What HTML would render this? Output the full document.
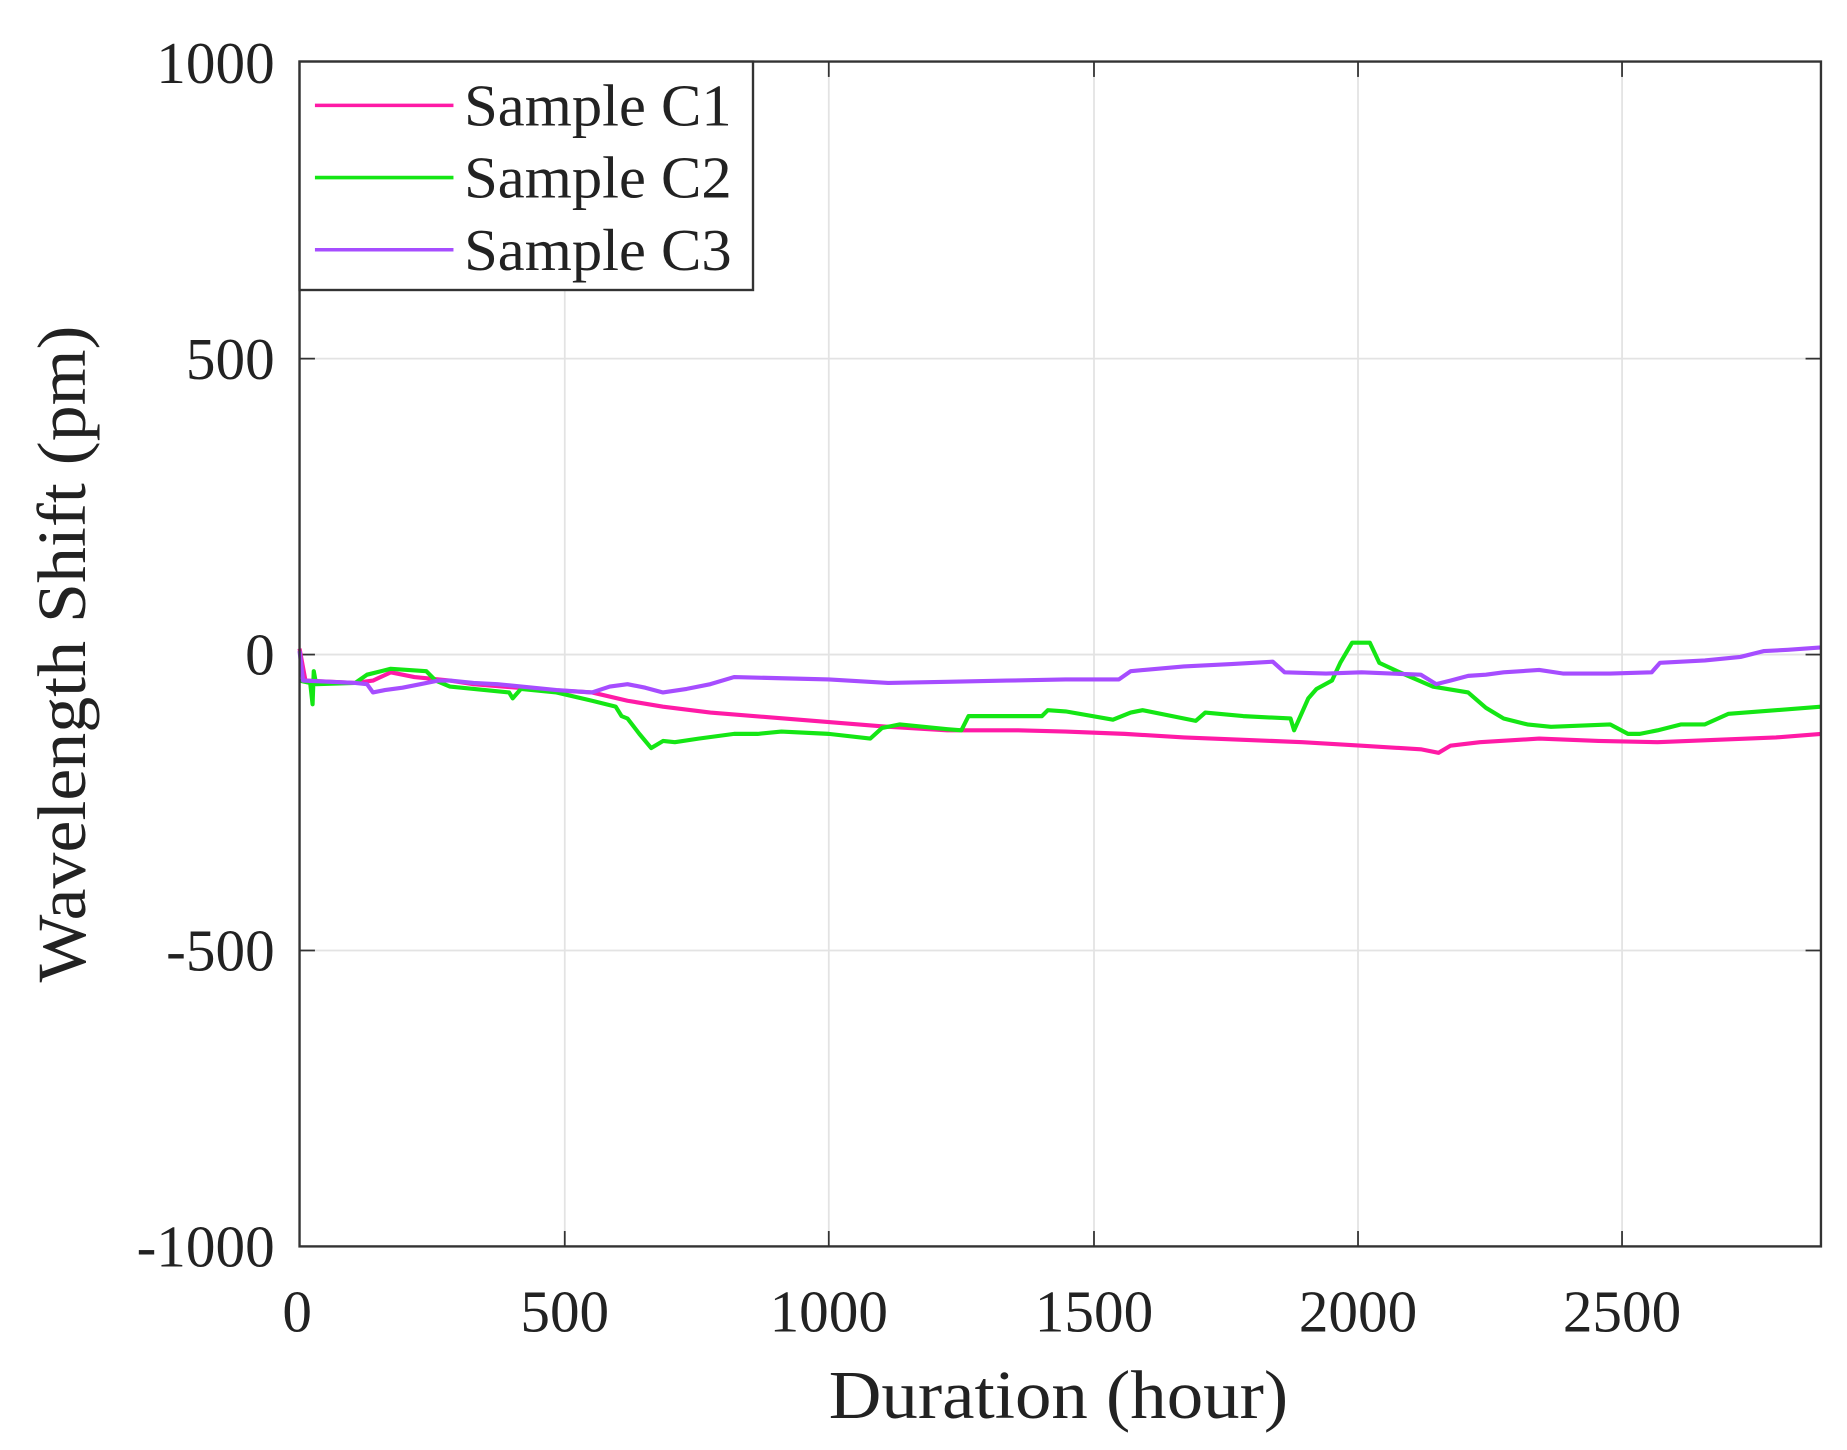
<!DOCTYPE html>
<html><head><meta charset="utf-8"><style>
html,body{margin:0;padding:0;background:#fff;}
svg{display:block;}
text{font-family:"Liberation Serif",serif;fill:#222;}
</style></head><body>
<svg width="1847" height="1450" viewBox="0 0 1560 1225" preserveAspectRatio="none" xmlns="http://www.w3.org/2000/svg">
<rect width="1560" height="1225" fill="#fff"/>
<g stroke="#e3e3e3" stroke-width="1.5">
<line x1="477" y1="52" x2="477" y2="1053"/>
<line x1="700" y1="52" x2="700" y2="1053"/>
<line x1="924" y1="52" x2="924" y2="1053"/>
<line x1="1147" y1="52" x2="1147" y2="1053"/>
<line x1="1370" y1="52" x2="1370" y2="1053"/>
<line x1="253" y1="303" x2="1538" y2="303"/>
<line x1="253" y1="553" x2="1538" y2="553"/>
<line x1="253" y1="803" x2="1538" y2="803"/>
</g>
<g stroke="#333" stroke-width="1.5">
<line x1="477" y1="1053" x2="477" y2="1040"/><line x1="700" y1="1053" x2="700" y2="1040"/><line x1="924" y1="1053" x2="924" y2="1040"/><line x1="1147" y1="1053" x2="1147" y2="1040"/><line x1="1370" y1="1053" x2="1370" y2="1040"/>
<line x1="477" y1="52" x2="477" y2="65"/><line x1="700" y1="52" x2="700" y2="65"/><line x1="924" y1="52" x2="924" y2="65"/><line x1="1147" y1="52" x2="1147" y2="65"/><line x1="1370" y1="52" x2="1370" y2="65"/>
<line x1="253" y1="303" x2="266" y2="303"/><line x1="253" y1="553" x2="266" y2="553"/><line x1="253" y1="803" x2="266" y2="803"/>
<line x1="1538" y1="303" x2="1525" y2="303"/><line x1="1538" y1="553" x2="1525" y2="553"/><line x1="1538" y1="803" x2="1525" y2="803"/>
</g>
<g fill="none" stroke-width="3.5" stroke-linejoin="round">
<polyline stroke="#ff1aa6" points="253,548 258,575 300,577 315,575 330,568 350,572 380,575 400,578 450,582 500,585 530,592 560,597 600,602 650,606 700,610 750,614 800,617 860,617 900,618 950,620 1000,623 1050,625 1100,627 1150,630 1200,633 1215,636 1225,630 1250,627 1300,624 1350,626 1400,627 1450,625 1500,623 1538,620"/>
<polyline stroke="#14e614" points="253,575 262,577 264,595 265,567 267,578 300,577 310,570 330,565 360,567 368,575 380,580 430,585 433,590 440,582 470,585 500,592 520,597 525,605 530,607 540,620 550,632 560,626 570,627 590,624 620,620 640,620 660,618 700,620 735,624 745,615 760,612 800,616 812,617 818,605 860,605 880,605 885,600 900,601 940,608 955,602 965,600 1010,609 1018,602 1050,605 1090,607 1093,617 1105,590 1112,582 1125,575 1132,560 1142,543 1157,543 1165,560 1180,567 1210,580 1240,585 1255,598 1270,607 1290,612 1310,614 1360,612 1375,620 1385,620 1400,617 1420,612 1440,612 1460,603 1500,600 1538,597"/>
<polyline stroke="#a64dff" points="253,550 256,575 300,577 310,578 315,585 325,583 340,581 355,578 370,575 380,575 400,577 420,578 450,581 470,583 500,585 515,580 530,578 545,581 560,585 580,582 600,578 620,572 660,573 700,574 750,577 800,576 850,575 900,574 945,574 955,567 1000,563 1040,561 1075,559 1085,568 1120,569 1150,568 1200,570 1213,578 1225,575 1240,571 1255,570 1270,568 1300,566 1320,569 1360,569 1395,568 1402,560 1440,558 1470,555 1490,550 1510,549 1538,547"/>
</g>
<rect x="253" y="52" width="1285" height="1001" fill="none" stroke="#333" stroke-width="2"/>
<rect x="253" y="52" width="383" height="193" fill="#fff" stroke="#333" stroke-width="2"/>
<line x1="266" y1="89" x2="383" y2="89" stroke="#ff1aa6" stroke-width="3"/>
<line x1="266" y1="150" x2="383" y2="150" stroke="#14e614" stroke-width="3"/>
<line x1="266" y1="211" x2="383" y2="211" stroke="#a64dff" stroke-width="3"/>
<g font-size="50">
<text x="392" y="106" textLength="226" lengthAdjust="spacingAndGlyphs">Sample C1</text>
<text x="392" y="167" textLength="226" lengthAdjust="spacingAndGlyphs">Sample C2</text>
<text x="392" y="228" textLength="226" lengthAdjust="spacingAndGlyphs">Sample C3</text>
</g>
<g font-size="50" text-anchor="end">
<text x="232" y="70">1000</text>
<text x="232" y="320">500</text>
<text x="232" y="570">0</text>
<text x="232" y="820">-500</text>
<text x="232" y="1070">-1000</text>
</g>
<g font-size="50" text-anchor="middle">
<text x="251" y="1125">0</text>
<text x="477" y="1125">500</text>
<text x="700" y="1125">1000</text>
<text x="924" y="1125">1500</text>
<text x="1147" y="1125">2000</text>
<text x="1370" y="1125">2500</text>
</g>
<text x="700" y="1198" font-size="58" textLength="388" lengthAdjust="spacingAndGlyphs">Duration (hour)</text>
<text transform="translate(72,830) rotate(-90)" font-size="58" textLength="555" lengthAdjust="spacingAndGlyphs">Wavelength Shift (pm)</text>
</svg>
</body></html>
